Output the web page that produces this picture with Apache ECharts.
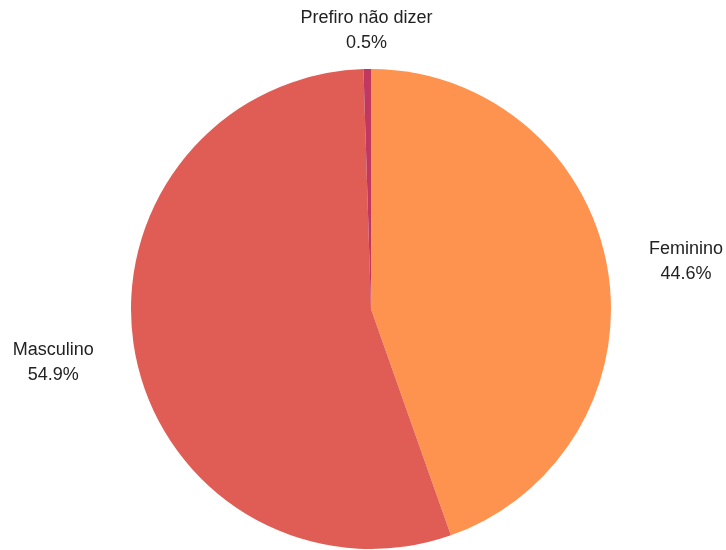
<!DOCTYPE html>
<html>
<head>
<meta charset="utf-8">
<script src="https://cdn.jsdelivr.net/npm/echarts@6/dist/echarts.min.js"></script>
<style>html,body{margin:0;padding:0;background:#fff}#c{width:726px;height:550px}</style>
</head>
<body>
<div id="c"></div>
<script>
var categories = ['Feminino', 'Masculino', 'Prefiro não dizer'];
var values = [44.6, 54.9, 0.5];
var colors = ['#FE924F', '#E05D56', '#C0385F'];

var chart = echarts.init(document.getElementById('c'), null, {renderer: 'canvas'});
chart.setOption({
  backgroundColor: '#ffffff',
  animation: false,
  series: [{
    type: 'pie',
    center: [371, 309],
    radius: 240,
    startAngle: 90,
    clockwise: true,
    avoidLabelOverlap: false,
    data: categories.map(function (n, i) {
      return {name: n, value: values[i], itemStyle: {color: colors[i]}};
    }),
    itemStyle: {borderWidth: 0},
    label: {
      show: true,
      position: 'outside',
      distanceToLabelLine: 0,
      formatter: function (p) { return '{n|' + p.name + '}\n{n|' + p.value.toFixed(1) + '%}'; },
      rich: {
        n: {align: 'center', fontFamily: 'Liberation Sans', fontSize: 18, color: '#222', lineHeight: 25}
      }
    },
    labelLine: {show: false, length: 42, length2: 0},
    labelLayout: function (params) {
      if (params.dataIndex === 2) return {align: 'center', dy: 3};
      if (params.dataIndex === 1) return {dy: 2};
      return {};
    },
    emphasis: {disabled: true}
  }]
});
</script>
</body>
</html>
